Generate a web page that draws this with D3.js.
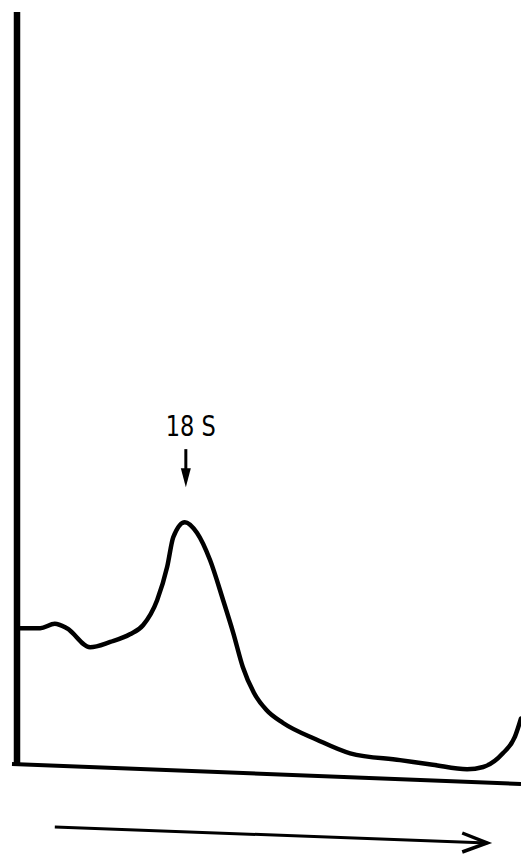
<!DOCTYPE html>
<html>
<head>
<meta charset="utf-8">
<script src="https://cdn.jsdelivr.net/npm/d3@7"></script>
<style>
  html, body { margin: 0; padding: 0; background: #fff; }
  svg { display: block; }
</style>
</head>
<body>
<div id="chart"></div>
<script>
// distance along the gradient (0-100) and absorbance (arbitrary units)
const position = [0, 4.6, 7.5, 9.9, 14.5, 18.5, 22.4, 25.0, 27.8, 29.8, 31.0, 33.3, 35.7, 38.3, 40.9, 42.9, 44.8, 47.0, 49.5, 52.8, 59.5, 66.1, 76.0, 82.5, 89.3, 92.5, 96.4, 98.8, 100];
const absorbance = [18.7, 18.7, 19.3, 18.7, 16.2, 16.9, 17.9, 19.1, 22.4, 26.8, 30.7, 32.7, 31.3, 27.7, 22.4, 18.1, 13.6, 10.2, 7.9, 6.2, 4.0, 2.2, 1.3, 0.7, 0.1, 0.4, 2.2, 4.4, 6.8];
const peakLabel = '18 S';
const peakAt = 33.3;

const W = 521, H = 854;
const margin = { top: 12, right: 0, bottom: 84, left: 17 };

const svg = d3.select('#chart').append('svg')
  .attr('width', W)
  .attr('height', H);

const x = d3.scaleLinear().domain([0, 100]).range([margin.left, W - margin.right]);
const y = d3.scaleLinear().domain([0, 100]).range([H - margin.bottom, margin.top]);

const data = position.map((p, i) => ({ p, a: absorbance[i] }));

// y axis: a heavy vertical bar, no ticks
svg.append('line')
  .attr('x1', x(0)).attr('x2', x(0))
  .attr('y1', y(100)).attr('y2', y(0) - 4)
  .attr('stroke', '#000')
  .attr('stroke-width', 6.5);

// x axis: slightly tilted baseline as in the original trace
svg.append('line')
  .attr('x1', x(0) - 5).attr('y1', y(0) - 6)
  .attr('x2', x(100)).attr('y2', y(0) + 14)
  .attr('stroke', '#000')
  .attr('stroke-width', 4);

// profile trace
const line = d3.line()
  .x(d => x(d.p))
  .y(d => y(d.a))
  .curve(d3.curveMonotoneX);

svg.append('path')
  .datum(data)
  .attr('fill', 'none')
  .attr('stroke', '#000')
  .attr('stroke-width', 4.5)
  .attr('stroke-linejoin', 'round')
  .attr('stroke-linecap', 'round')
  .attr('d', line);

// peak label with small downward arrow
const peakX = x(peakAt) + 1;
const peakTop = y(d3.max(absorbance));

svg.append('text')
  .attr('x', peakX + 5)
  .attr('y', peakTop - 86)
  .attr('text-anchor', 'middle')
  .attr('font-family', '"Liberation Sans Narrow", "DejaVu Sans Condensed", "Liberation Sans", sans-serif')
  .attr('font-size', 29)
  .attr('textLength', 50)
  .attr('lengthAdjust', 'spacingAndGlyphs')
  .text(peakLabel);

svg.append('line')
  .attr('x1', peakX).attr('x2', peakX)
  .attr('y1', peakTop - 73).attr('y2', peakTop - 50)
  .attr('stroke', '#000')
  .attr('stroke-width', 3);

svg.append('path')
  .attr('d', `M${peakX - 5},${peakTop - 54} L${peakX + 5},${peakTop - 54} L${peakX},${peakTop - 35} Z`)
  .attr('fill', '#000');

// direction arrow under the axis
const ax0 = x(7.5), ax1 = x(93.3);
const ay0 = y(0) + 57, ay1 = y(0) + 73;
svg.append('line')
  .attr('x1', ax0).attr('y1', ay0)
  .attr('x2', ax1).attr('y2', ay1)
  .attr('stroke', '#000')
  .attr('stroke-width', 3);

svg.append('path')
  .attr('d', `M${ax1 - 25},${ay1 - 10} L${ax1},${ay1} L${ax1 - 25},${ay1 + 9}`)
  .attr('fill', 'none')
  .attr('stroke', '#000')
  .attr('stroke-width', 3.5)
  .attr('stroke-linejoin', 'miter');
</script>
</body>
</html>
